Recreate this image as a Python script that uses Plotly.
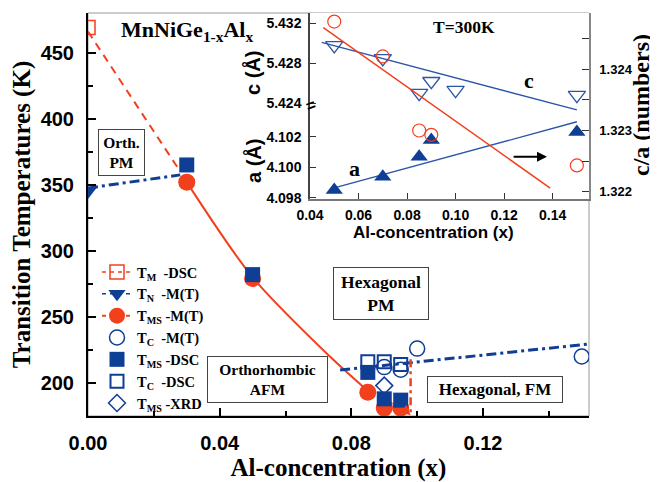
import plotly.graph_objects as go

# ---------------- main panel data ----------------
tm_dsc_x = [0.0]
tm_dsc_y = [469]
tn_mt_x = [0.0]
tn_mt_y = [345]
tms_mt_x = [0.03, 0.05, 0.085, 0.09, 0.095]
tms_mt_y = [352, 279, 193, 181, 181]
tc_mt_x = [0.09, 0.095, 0.10, 0.15]
tc_mt_y = [212, 210, 226, 220]
tms_dsc_x = [0.03, 0.05, 0.085, 0.09, 0.095]
tms_dsc_y = [365, 282, 208, 188, 187]
tc_dsc_x = [0.085, 0.09, 0.095]
tc_dsc_y = [216, 216, 214]
tms_xrd_x = [0.09]
tms_xrd_y = [198]

# guide lines (phase boundaries)
tm_line_x = [0.0, 0.0275]
tm_line_y = [466, 362]
tn_line_x = [0.0, 0.028]
tn_line_y = [347.5, 357.5]
tms_line_x = [0.03, 0.05, 0.0735, 0.085]
tms_line_y = [352, 280, 220, 194]
tms_ext_x = [0.085, 0.0965]
tms_ext_y = [194, 179]
tc_line_x = [0.0766, 0.1522]
tc_line_y = [209.8, 229.5]
bound_x = [0.098, 0.098]
bound_y = [218, 175]

# ---------------- inset data (T = 300 K) ----------------
c_x = [0.05, 0.07, 0.085, 0.09, 0.10, 0.15]
c_vals = [5.4298, 5.4285, 5.4250, 5.4262, 5.4253, 5.4248]
a_x = [0.05, 0.07, 0.085, 0.09, 0.15]
a_vals = [4.09852, 4.09938, 4.10069, 4.10178, 4.10231]
ca_x = [0.05, 0.07, 0.085, 0.09, 0.15]
ca_vals = [1.32478, 1.32421, 1.32300, 1.32293, 1.32243]
c_fit_x = [0.0448, 0.150]
c_fit_y = [5.43011, 5.42331]
a_fit_x = [0.05, 0.150]
a_fit_y = [4.09865, 4.10298]
ca_fit_x = [0.0455, 0.139]
ca_fit_y = [1.32468, 1.32206]

main_x_ticks = [0.0, 0.04, 0.08, 0.12]
main_x_text = ["0.00", "0.04", "0.08", "0.12"]
main_y_ticks = [200, 250, 300, 350, 400, 450]
inset_x_ticks = [0.04, 0.06, 0.08, 0.10, 0.12, 0.14]
inset_x_text = ["0.04", "0.06", "0.08", "0.10", "0.12", "0.14"]
c_ticks = [5.424, 5.428, 5.432]
a_ticks = [4.098, 4.100, 4.102]
ca_ticks = [1.322, 1.323, 1.324]

RED = "#F2401D"
BLUE = "#0F3E95"
IBLUE = "#2A55A8"
SERIF = "Liberation Serif, Times New Roman, serif"
SANS = "Liberation Sans, Arial, sans-serif"

fig = go.Figure()

# ---- main guide lines ----
fig.add_trace(go.Scatter(x=tm_line_x, y=tm_line_y, mode="lines", showlegend=False,
                         line=dict(color=RED, width=2, dash="8px,6px")))
fig.add_trace(go.Scatter(x=tn_line_x, y=tn_line_y, mode="lines", showlegend=False,
                         line=dict(color=BLUE, width=3, dash="10px,4px,3px,4px")))
fig.add_trace(go.Scatter(x=tms_line_x, y=tms_line_y, mode="lines", showlegend=False,
                         line=dict(color=RED, width=2, shape="spline", smoothing=0.8)))
fig.add_trace(go.Scatter(x=tms_ext_x, y=tms_ext_y, mode="lines", showlegend=False,
                         line=dict(color=RED, width=2, dash="6px,5px")))
fig.add_trace(go.Scatter(x=tc_line_x, y=tc_line_y, mode="lines", showlegend=False,
                         line=dict(color=BLUE, width=3, dash="10px,4px,3px,4px")))
fig.add_trace(go.Scatter(x=bound_x, y=bound_y, mode="lines", showlegend=False,
                         line=dict(color=RED, width=2.5, dash="8px,4px,3px,4px")))

# ---- main markers ----
leg_font = dict(family=SERIF, size=14.5, color="black", weight="bold")
fig.add_trace(go.Scatter(x=tm_dsc_x, y=tm_dsc_y, mode="lines+markers",
                         name="T<sub>M</sub>  -DSC", legendrank=1,
                         line=dict(color=RED, width=1.5, dash="4px,4px"),
                         marker=dict(symbol="square-open", size=14, color=RED,
                                     line=dict(width=1.5, color=RED))))
fig.add_trace(go.Scatter(x=tn_mt_x, y=tn_mt_y, mode="lines+markers",
                         name="T<sub>N</sub>  -M(T)", legendrank=2,
                         line=dict(color=BLUE, width=1.5, dash="4px,4px"),
                         marker=dict(symbol="triangle-down", size=15, color=BLUE)))
fig.add_trace(go.Scatter(x=tms_mt_x, y=tms_mt_y, mode="markers", showlegend=False,
                         marker=dict(symbol="circle", size=17, color=RED)))
fig.add_trace(go.Scatter(x=[None], y=[None], mode="lines+markers",
                         name="T<sub>MS</sub> -M(T)", legendrank=3,
                         line=dict(color=RED, width=2, dash="4px,4px"),
                         marker=dict(symbol="circle", size=16, color=RED)))
fig.add_trace(go.Scatter(x=tc_mt_x, y=tc_mt_y, mode="markers",
                         name="T<sub>C</sub>  -M(T)", legendrank=4,
                         marker=dict(symbol="circle-open", size=15, color=BLUE,
                                     line=dict(width=1.5, color=BLUE))))
fig.add_trace(go.Scatter(x=tms_dsc_x, y=tms_dsc_y, mode="markers",
                         name="T<sub>MS</sub> -DSC", legendrank=5,
                         marker=dict(symbol="square", size=15, color=BLUE)))
fig.add_trace(go.Scatter(x=tc_dsc_x, y=tc_dsc_y, mode="markers",
                         name="T<sub>C</sub>  -DSC", legendrank=6,
                         marker=dict(symbol="square-open", size=13, color=BLUE,
                                     line=dict(width=2, color=BLUE))))
fig.add_trace(go.Scatter(x=tms_xrd_x, y=tms_xrd_y, mode="markers",
                         name="T<sub>MS</sub> -XRD", legendrank=7,
                         marker=dict(symbol="diamond-open", size=13, color=BLUE,
                                     line=dict(width=1.5, color=BLUE))))

# ---- inset traces ----
fig.add_trace(go.Scatter(x=c_fit_x, y=c_fit_y, xaxis="x2", yaxis="y2", mode="lines",
                         showlegend=False, line=dict(color=IBLUE, width=1.3)))
fig.add_trace(go.Scatter(x=c_x, y=c_vals, xaxis="x2", yaxis="y2", mode="markers",
                         showlegend=False,
                         marker=dict(symbol="triangle-down-open", size=15, color=IBLUE,
                                     line=dict(width=1.3, color=IBLUE))))
fig.add_trace(go.Scatter(x=a_fit_x, y=a_fit_y, xaxis="x2", yaxis="y3", mode="lines",
                         showlegend=False, line=dict(color=IBLUE, width=1.3)))
fig.add_trace(go.Scatter(x=a_x, y=a_vals, xaxis="x2", yaxis="y3", mode="markers",
                         showlegend=False,
                         marker=dict(symbol="triangle-up", size=15, color=BLUE)))
fig.add_trace(go.Scatter(x=ca_fit_x, y=ca_fit_y, xaxis="x2", yaxis="y4", mode="lines",
                         showlegend=False, line=dict(color=RED, width=1.5)))
fig.add_trace(go.Scatter(x=ca_x, y=ca_vals, xaxis="x2", yaxis="y4", mode="markers",
                         showlegend=False,
                         marker=dict(symbol="circle-open", size=13, color=RED,
                                     line=dict(width=1.2, color=RED))))

tick_main = dict(family=SANS, size=20, color="black", weight="bold")
tick_in = dict(family=SANS, size=14, color="black", weight="bold")

# page places the figure 8px in from the window corner; positions below are
# given in window pixels and converted to plot-area fractions
def px(xp):
    return (xp - 88) / 501.0

def py(yp):
    return (416 - yp) / 403.0

fig.update_layout(
    template="none",
    width=650, height=474,
    margin=dict(l=80, r=69, t=5, b=66, pad=0),
    paper_bgcolor="white", plot_bgcolor="white",
    showlegend=True,
    legend=dict(x=px(97), y=py(256), xanchor="left", yanchor="top",
                bgcolor="rgba(0,0,0,0)", font=leg_font, itemwidth=30,
                tracegroupgap=0, traceorder="normal", borderwidth=0),
    xaxis=dict(domain=[0, 1], range=[0, 0.1522], anchor="y", automargin=False,
               tickvals=main_x_ticks, ticktext=main_x_text,
               ticks="inside", ticklen=8, tickwidth=1.5, tickcolor="black",
               minor=dict(tickvals=[0.02, 0.06, 0.10, 0.14], ticks="inside",
                          ticklen=5, tickwidth=1.5, tickcolor="black"),
               showline=True, linecolor="black", linewidth=2,
               showgrid=False, zeroline=False, tickfont=tick_main,
               ticklabelstandoff=8,
               title=dict(text="Al-concentration (x)",
                          font=dict(family=SERIF, size=25, color="black", weight="bold"),
                          standoff=10)),
    yaxis=dict(domain=[0, 1], range=[175, 480], anchor="x", automargin=False,
               tickvals=main_y_ticks,
               ticks="inside", ticklen=8, tickwidth=1.5, tickcolor="black",
               minor=dict(tickvals=[225, 275, 325, 375, 425], ticks="inside",
                          ticklen=5, tickwidth=1.5, tickcolor="black"),
               showline=True, linecolor="black", linewidth=2,
               showgrid=False, zeroline=False, tickfont=tick_main,
               ticklabelstandoff=8,
               title=dict(text="Transition Temperatures (K)",
                          font=dict(family=SERIF, size=25, color="black", weight="bold"),
                          standoff=10)),
    xaxis2=dict(domain=[px(310), 1], range=[0.04, 0.155], anchor="y2", automargin=False,
                tickvals=inset_x_ticks, ticktext=inset_x_text,
                ticks="inside", ticklen=6, tickwidth=1.2, tickcolor="#333",
                showline=True, linecolor="#777", linewidth=1.5,
                showgrid=False, zeroline=False, tickfont=tick_in,
                ticklabelstandoff=2),
    yaxis2=dict(domain=[py(199), 1], range=[5.41436, 5.43306], anchor="x2", automargin=False,
                tickvals=c_ticks, ticktext=["5.424", "5.428", "5.432"],
                ticks="inside", ticklen=6, tickwidth=1.2, tickcolor="#333",
                showline=True, linecolor="#444", linewidth=1.5,
                showgrid=False, zeroline=False, tickfont=tick_in,
                ticklabelstandoff=4),
    yaxis3=dict(overlaying="y2", anchor="x2", side="left", automargin=False,
                range=[4.09793, 4.11009],
                tickvals=a_ticks, ticktext=["4.098", "4.100", "4.102"],
                ticks="inside", ticklen=6, tickwidth=1.2, tickcolor="#333",
                showline=True, linecolor="#444", linewidth=1.5,
                showgrid=False, zeroline=False, tickfont=tick_in,
                ticklabelstandoff=4),
    yaxis4=dict(overlaying="y2", anchor="x2", side="right", automargin=False,
                range=[1.321881, 1.324920],
                tickvals=ca_ticks, ticktext=["1.322", "1.323", "1.324"],
                ticks="inside", ticklen=7, tickwidth=1.2, tickcolor="#333",
                minor=dict(tickvals=[1.3225, 1.3235, 1.3245], ticks="inside",
                           ticklen=7, tickwidth=1.2, tickcolor="#333"),
                showline=True, linecolor="#888", linewidth=1.5,
                showgrid=False, zeroline=False,
                tickfont=dict(family=SANS, size=13, color="black", weight="bold"),
                ticklabelstandoff=6),
    shapes=[dict(type="rect", xref="paper", yref="paper", x0=0, y0=0, x1=1, y1=1,
                 line=dict(color="#999", width=1), layer="below")],
)

ann = []
serif_b = lambda s: dict(family=SERIF, size=s, color="black", weight="bold")
sans_b = lambda s: dict(family=SANS, size=s, color="black", weight="bold")
C = dict(xanchor="center", yanchor="middle", showarrow=False, xref="paper", yref="paper")

ann.append(dict(C, x=px(187), y=py(31),
                text="MnNiGe<sub>1-x</sub>Al<sub>x</sub>", font=serif_b(22)))
# phase boxes
for txt, x0, x1, y0, y1, fs in [
    ("Orth.<br>PM", 98, 145, 129, 176, 15.5),
    ("Hexagonal<br>PM", 333, 429, 267, 320, 17.5),
    ("Orthorhombic<br>AFM", 207, 328, 356, 403, 15.5),
    ("Hexagonal, FM", 427, 563, 376, 403, 17),
]:
    ann.append(dict(C, x=px((x0 + x1) / 2), y=py((y0 + y1) / 2),
                    text=txt, font=serif_b(fs),
                    width=x1 - x0 - 2, height=y1 - y0 - 2, borderpad=0,
                    bordercolor="#444", borderwidth=1, bgcolor="white"))
# red arrow at boundary
ann.append(dict(xref="x", yref="y", axref="x", ayref="y", x=0.098, y=175.5,
                ax=0.0965, ay=179, text="", showarrow=True, arrowhead=2,
                arrowsize=1, arrowwidth=2, arrowcolor=RED))
# inset labels
ann.append(dict(C, x=px(464), y=py(27), text="T=300K", font=serif_b(17.5)))
ann.append(dict(C, x=px(529), y=py(80), text="c", font=serif_b(22)))
ann.append(dict(C, x=px(354), y=py(168), text="a", font=serif_b(22)))
ann.append(dict(xref="x2", yref="y4", axref="x2", ayref="y4", x=0.1377, y=1.32257,
                ax=0.1233, ay=1.32257, text="", showarrow=True, arrowhead=2,
                arrowsize=1, arrowwidth=2, arrowcolor="black"))
ann.append(dict(C, x=px(433), y=py(232), text="Al-concentration (x)", font=sans_b(17)))
ann.append(dict(C, x=px(253), y=py(73), text="c (Å)", textangle=-90, font=sans_b(20)))
ann.append(dict(C, x=px(253), y=py(161), text="a (Å)", textangle=-90, font=sans_b(20)))
ann.append(dict(C, x=px(641), y=py(105), text="c/a (numbers)", textangle=-90,
                font=serif_b(24)))
# axis break mark
ann.append(dict(C, x=px(310), y=py(105), text="=", textangle=-20, font=sans_b(16)))
fig.update_layout(annotations=ann)

fig.write_html("out.html")
